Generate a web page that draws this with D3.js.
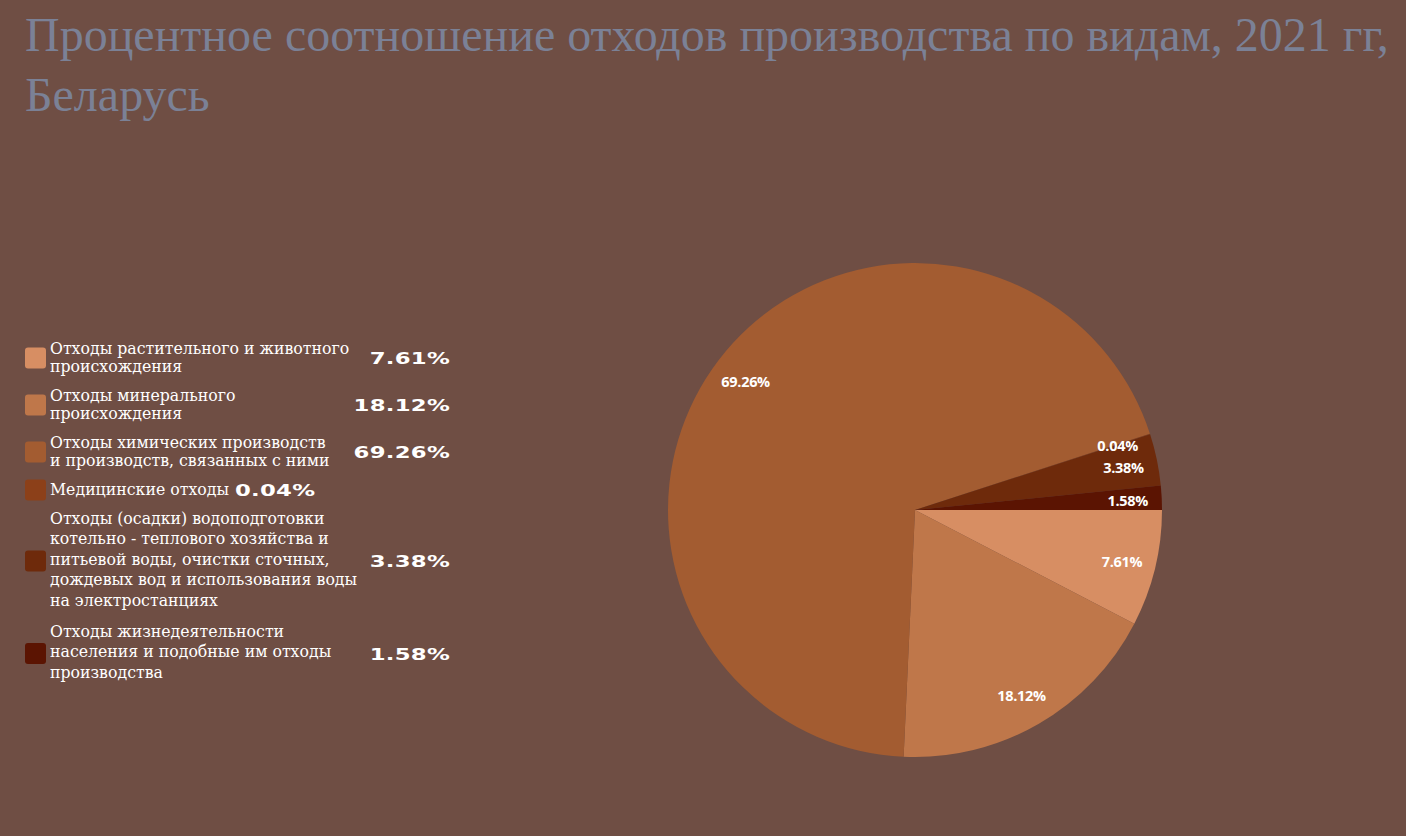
<!DOCTYPE html>
<html lang="ru">
<head>
  <meta charset="UTF-8">
  <title>Процентное соотношение отходов производства по видам, 2021 гг, Беларусь</title>
  <script src="https://d3js.org/d3.v7.min.js"></script>
  <style>
    html, body { margin: 0; padding: 0; background: #6f4e44; }
    svg { display: block; }
  </style>
</head>
<body>
  <svg width="1406" height="836"></svg>

  <script>
    // data
    const categories = [
      "Отходы растительного и животного происхождения",
      "Отходы минерального происхождения",
      "Отходы химических производств и производств, связанных с ними",
      "Медицинские отходы",
      "Отходы (осадки) водоподготовки котельно - теплового хозяйства и питьевой воды, очистки сточных, дождевых вод и использования воды на электростанциях",
      "Отходы жизнедеятельности населения и подобные им отходы производства"
    ];
    const legendLines = [
      ["Отходы растительного и животного", "происхождения"],
      ["Отходы минерального", "происхождения"],
      ["Отходы химических производств", "и производств, связанных с ними"],
      ["Медицинские отходы"],
      ["Отходы (осадки) водоподготовки", "котельно - теплового хозяйства и", "питьевой воды, очистки сточных,", "дождевых вод и использования воды", "на электростанциях"],
      ["Отходы жизнедеятельности", "населения и подобные им отходы", "производства"]
    ];
    const values = [7.61, 18.12, 69.26, 0.04, 3.38, 1.58];
    const colors = ["#d78e63", "#bf774a", "#a35c31", "#8c4019", "#6e2a0b", "#5b1402"];
    const titleLines = ["Процентное соотношение отходов производства по видам, 2021 гг,", "Беларусь"];

    const svg = d3.select("svg");
    const fmt = d => d.toFixed(2) + "%";

    // title
    svg.append("text")
      .attr("fill", "#7b8196")
      .style("font-family", "'Liberation Serif', 'Times New Roman', serif")
      .style("font-size", "48px")
      .selectAll("tspan")
      .data(titleLines)
      .join("tspan")
      .attr("x", 25)
      .attr("y", (d, i) => 51 + i * 60)
      .text(d => d);

    // pie
    const cx = 915, cy = 510, radius = 247;
    const pie = d3.pie()
      .sort(null)
      .value(d => d)
      .startAngle(Math.PI / 2)
      .endAngle(Math.PI / 2 + 2 * Math.PI);
    const arcs = pie(values);
    const arc = d3.arc().innerRadius(0).outerRadius(radius);
    const labelArc = d3.arc().innerRadius(213).outerRadius(213);

    const g = svg.append("g").attr("transform", `translate(${cx},${cy})`);
    g.selectAll("path")
      .data(arcs)
      .join("path")
      .attr("d", arc)
      .attr("fill", (d, i) => colors[i]);

    g.selectAll("text.slice")
      .data(arcs)
      .join("text")
      .attr("class", "slice")
      .attr("transform", d => {
        const [x, y] = labelArc.centroid(d);
        return `translate(${x},${y})`;
      })
      .attr("dy", "0.45em")
      .attr("text-anchor", "middle")
      .attr("fill", "#ffffff")
      .style("font-family", "'Open Sans', sans-serif")
      .style("font-weight", 700)
      .style("font-size", "14.5px")
      .style("letter-spacing", "-0.3px")
      .text(d => fmt(d.data));

    // legend
    const lineH = [18, 18, 18, 18, 20.4, 20.4];
    let yTop = 340;
    const layout = legendLines.map((lines, i) => {
      const h = lines.length * lineH[i];
      const item = { top: yTop, h, center: yTop + h / 2 };
      yTop += h + 11;
      return item;
    });

    const legend = svg.append("g");
    legendLines.forEach((lines, i) => {
      const L = layout[i];
      const item = legend.append("g").attr("class", "legend-item");

      item.append("rect")
        .attr("x", 25)
        .attr("y", L.center - 10.5)
        .attr("width", 21)
        .attr("height", 21)
        .attr("rx", 3)
        .attr("fill", colors[i]);

      const txt = item.append("text")
        .attr("fill", "#ffffff")
        .style("font-family", "'DejaVu Serif Condensed', 'DejaVu Serif', serif")
        .style("font-stretch", "condensed")
        .style("font-size", "17.5px");
      txt.selectAll("tspan")
        .data(lines)
        .join("tspan")
        .attr("x", 50)
        .attr("y", (d, j) => L.top + j * lineH[i] + 14)
        .text(d => d);

      // value, inline after single-line labels
      let vx = 450, anchor = "end";
      if (lines.length === 1) {
        vx = 50 + txt.node().getComputedTextLength() + 6;
        anchor = "start";
      }
      item.append("text")
        .attr("transform", `translate(${vx},${L.center}) scale(1.38,1)`)
        .attr("dy", "0.36em")
        .attr("text-anchor", anchor)
        .attr("fill", "#ffffff")
        .style("font-family", "'DejaVu Sans', sans-serif")
        .style("font-weight", 700)
        .style("font-size", "16.5px")
        .style("letter-spacing", "0.2px")
        .text(fmt(values[i]));
    });
  </script>
</body>
</html>
